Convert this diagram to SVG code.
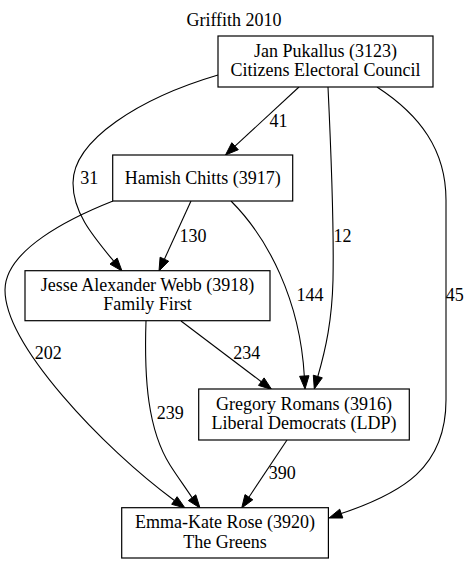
<svg xmlns="http://www.w3.org/2000/svg" width="470" height="564" viewBox="0 0 470 564">
<style>
text{font-family:"Liberation Serif","Times New Roman",serif;font-size:18px;fill:#000;text-anchor:middle}
.box{fill:#fff;stroke:#000;stroke-width:1.2}
.e path{fill:none;stroke:#000;stroke-width:1.1}
.e polygon{fill:#000;stroke:#000;stroke-width:1}
</style>
<rect x="0" y="0" width="470" height="564" fill="#fff"/>
<text x="234" y="26">Griffith 2010</text>
<g class="e" id="edges">
<path d="M299,87 L235,146.2"/>
<polygon points="225.5,155 231.8,142.7 238.3,149.7"/>
<text x="278.5" y="127">41</text>
<path d="M218,75 C140,98 73,140 73,183 C73,213 93,236 113.6,261.1"/>
<polygon points="122,271 110,264.1 117.2,258.1"/>
<text x="89.3" y="184">31</text>
<path d="M191,201 L164.4,259.2"/>
<polygon points="159,271 160.1,257.2 168.7,261.2"/>
<text x="193" y="241.7">130</text>
<path d="M231,201 C268,238 300,300 304.3,376"/>
<polygon points="305,389 299.6,376.3 309,375.7"/>
<text x="310" y="300.7">144</text>
<path d="M328,87 C331,150 334,230 333,280 C332,320 326,348 317.8,376.5"/>
<polygon points="314.3,389 313.3,375.2 322.3,377.8"/>
<text x="342.5" y="241.7">12</text>
<path d="M377,87 C420,115 446,150 446,200 L446,400 C446,468 402,493 341.2,513.6"/>
<polygon points="329,518 339.7,509.2 342.8,518"/>
<text x="454.7" y="300.7">45</text>
<path d="M113,201 C70,218 5,250 5,290 C5,345 103,448 174.4,500.5"/>
<polygon points="185,508 171.7,504.3 177.1,496.7"/>
<text x="48.3" y="359.3">202</text>
<path d="M146,321 C144,380 148,430 170,465 C177,476 185,487 192.1,497.7"/>
<polygon points="200,508 188.4,500.6 195.8,494.8"/>
<text x="170.3" y="419">239</text>
<path d="M181,321 L261.3,381.7"/>
<polygon points="271.7,389.5 258.5,385.4 264.1,377.9"/>
<text x="246.7" y="359.3">234</text>
<path d="M287,440 L248.9,497.2"/>
<polygon points="241.7,508 245,494.6 252.8,499.8"/>
<text x="282.2" y="479">390</text>
</g>
<g id="n3123">
<rect class="box" x="218" y="36" width="215" height="51"/>
<text x="325.5" y="57">Jan Pukallus (3123)</text>
<text x="325.5" y="76">Citizens Electoral Council</text>
</g>
<g id="n3917">
<rect class="box" x="112.7" y="155" width="180" height="46"/>
<text x="202.7" y="184">Hamish Chitts (3917)</text>
</g>
<g id="n3918">
<rect class="box" x="25" y="270.7" width="245" height="50"/>
<text x="147.5" y="290.5">Jesse Alexander Webb (3918)</text>
<text x="147.5" y="310">Family First</text>
</g>
<g id="n3916">
<rect class="box" x="198.7" y="389" width="210.6" height="51"/>
<text x="304" y="409.5">Gregory Romans (3916)</text>
<text x="304" y="429">Liberal Democrats (LDP)</text>
</g>
<g id="n3920">
<rect class="box" x="121.7" y="507.7" width="206.7" height="50.3"/>
<text x="225" y="528">Emma-Kate Rose (3920)</text>
<text x="225" y="547.5">The Greens</text>
</g>
</svg>
